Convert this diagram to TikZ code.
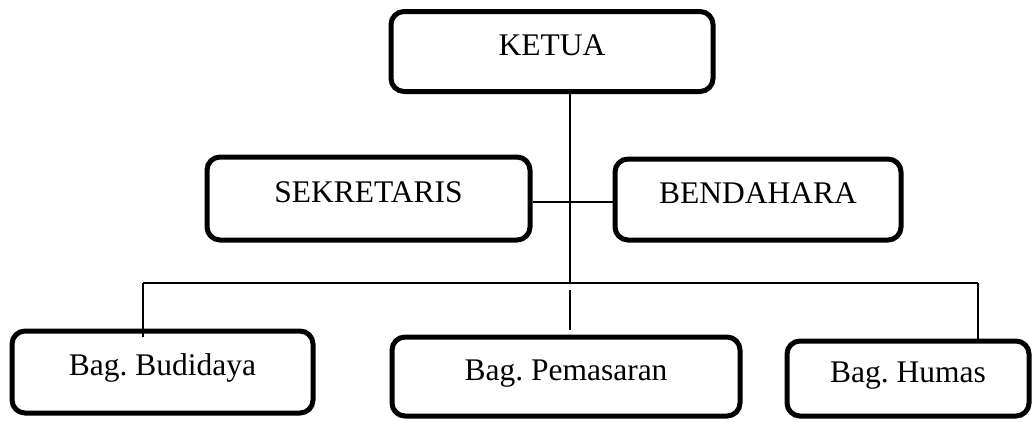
\documentclass[tikz,border=0pt]{standalone}
\usepackage{fontspec}
\setmainfont{Liberation Serif}
\frenchspacing
\begin{document}
\begin{tikzpicture}[x=1pt,y=-1pt,
  orgbox/.style={draw=black, line width=5pt, rounded corners=13pt, fill=white,
    font=\fontsize{31.5}{36}\selectfont, text height=22pt, text depth=15pt, inner sep=0pt},
  link/.style={draw=black, line width=1.8pt}]
\fill[white] (0,0) rectangle (1033,421);
\useasboundingbox (0,0) rectangle (1033,421);

\node[orgbox, minimum width=322pt, minimum height=80pt] (ketua) at (552,51.5) {KETUA};
\node[orgbox, minimum width=323pt, minimum height=83pt] (sekretaris) at (368.5,198.5) {SEKRETARIS};
\node[orgbox, minimum width=286pt, minimum height=81pt] (bendahara) at (758,199.5) {BENDAHARA};
\node[orgbox, minimum width=301pt, minimum height=82pt] (budidaya) at (162.5,372) {Bag. Budidaya};
\node[orgbox, minimum width=348pt, minimum height=79pt] (pemasaran) at (566,376.5) {Bag. Pemasaran};
\node[orgbox, minimum width=242pt, minimum height=75pt] (humas) at (908,378.5) {Bag. Humas};

\coordinate (j) at (570,283);
\coordinate (bl) at (143,283);
\coordinate (br) at (978,283);
\coordinate (m1) at (570,290);
\coordinate (m2) at (570,330);
\coordinate (lend) at (143,337);
\coordinate (rend) at (978,343);

\draw[link] (ketua.south -| j) -- (j);
\draw[link] (sekretaris.east |- 0,202) -- (bendahara.west |- 0,202);
\draw[link] (bl) -- (br);
\draw[link] (bl) -- (lend);
\draw[link] (br) -- (rend);
\draw[link] (m1) -- (m2);
\end{tikzpicture}
\end{document}
